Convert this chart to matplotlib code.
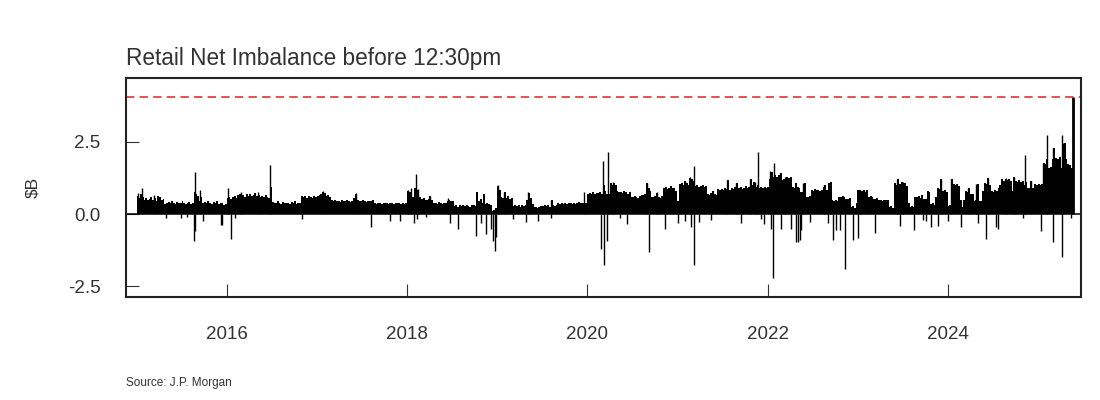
import matplotlib
matplotlib.use("Agg")
import matplotlib.pyplot as plt
import pandas as pd

plt.rcParams['font.family'] = ['Liberation Sans', 'DejaVu Sans']
plt.rcParams['lines.scale_dashes'] = False

title = "Retail Net Imbalance before 12:30pm"
ylabel = "$B"
source = "Source: J.P. Morgan"
threshold = 4.07
ytick_vals = [-2.5, 0.0, 2.5]
ytick_labels = ["-2.5", "0.0", "2.5"]
xtick_years = [2016, 2018, 2020, 2022, 2024]

# weekly net imbalance ($B), one list per year
pos_2015 = [0.62,0.55,0.68,0.58, 0.50,0.55,0.48,0.52,0.60,0.50,0.55,0.45,0.63,0.58,0.50,0.52,
            0.35,0.40,0.42,0.38,0.45,0.40,0.36,0.42,0.40,0.38,0.44,0.40,0.35,0.38,0.42,0.36,0.40,
            0.75,0.70,0.62, 0.45,0.60,0.40,0.42,0.38,0.45,0.40,0.36,0.42,0.38,0.44,0.35,0.40,0.38,0.30,0.36]
pos_2016 = [0.55,0.60,0.52,0.58,0.62,0.55,
            0.65,0.70,0.62,0.66,0.60,0.68,0.64,0.70,0.62,0.66,0.72,0.63,0.66,0.60,
            0.62,0.58,0.65,0.60, 0.55,0.95,
            0.42,0.40,0.38,0.44,0.40,0.36,0.42,0.40,0.38,
            0.40,0.36,0.42,0.38,0.45,0.35,0.40,0.38, 0.63,
            0.58,0.62,0.55,0.64,0.60,0.56,0.62,0.58]
pos_2017 = [0.62,0.66,0.70,0.78,0.72,0.64,0.66,0.60,
            0.48,0.45,0.50,0.44,0.46,0.42,0.48,0.45,0.44,0.50,0.46,0.42,0.47,
            0.55,0.69,
            0.48,0.45,0.44,0.50,0.46,0.42,0.47,0.45,0.44,0.48,
            0.38,0.36,0.40,0.38,0.35,0.40,0.37,0.39,0.36,0.40,0.38,0.35,0.39,0.37,0.40,0.36,0.38,0.34,0.40]
pos_2018 = [0.80,0.75,0.78,0.60,0.90,0.85,0.70,0.60,
            0.52,0.55,0.50,0.48,0.54,0.63,0.50,
            0.38,0.40,0.36,0.42,0.38,0.35,0.40,0.37,
            0.46,0.50,0.44,0.46,
            0.29,0.30,0.26,0.32,0.28,0.30,0.27,0.31,0.29,0.26,0.33,0.30,0.28,
            0.78,0.45,0.52,0.40,0.69,0.35,0.40,0.35,0.30,0.10,0.15,0.20]
pos_2019 = [0.98,0.85,0.60,0.55,0.75,0.57,0.62,0.52,0.55,
            0.29,0.32,0.27,0.30,0.26,0.31,0.28,0.30,
            0.50,0.72,0.57,0.35,
            0.23,0.25,0.20,0.24,
            0.29,0.27,0.32,0.28,0.30,0.26,0.48,0.30,0.28,0.31,
            0.37,0.35,0.40,0.36,0.38,0.34,0.39,0.37,0.35,0.40,0.36,0.38,0.42,0.37,0.40,0.38,0.40]
pos_2020 = [0.70,0.72,0.68,0.75,0.70,0.74,0.72,0.76,0.70, 1.00,0.80,
            0.69,0.69,1.06,1.00,1.06,1.00,0.80,
            0.75,0.78,0.72,0.80,0.75,0.70,0.76,
            0.60,0.58,0.62,0.60,0.56,0.62,
            0.67,0.65,0.70, 1.06,0.90,0.80,
            0.60,0.58,0.62,0.72,0.60,0.56,0.62,
            0.92,0.95,0.88,0.92,0.96,0.90,0.92,0.80]
pos_2021 = [0.45, 1.05,1.09,1.00,1.15,1.09,1.02, 1.26,1.22, 1.15,
            0.98,1.02,0.95,0.98,1.00,0.94,0.98,
            0.69,0.65,0.72,0.80,0.68,0.66,
            0.86,0.82,0.88,0.84,0.90,0.86,1.17,0.85,
            0.92,0.88,0.95,1.06,0.90,0.94,0.88,0.92,0.96,0.90,0.94,1.23,
            1.00,1.10,0.95, 1.00, 0.92,0.95,0.90,0.94,0.92]
pos_2022 = [0.94,1.20,1.46,1.30,1.34,1.30,1.34,1.43,
            1.17,1.20,1.12, 1.29,1.25,1.29,
            0.94,0.90,1.06,0.95,0.92, 0.77,0.75,1.08,
            0.60,0.58,0.62, 0.83,0.80,0.86,0.82,0.84,0.80,0.83,
            0.95,1.00,0.85,1.06,1.11,
            0.48,0.45,0.50,0.46, 0.60,0.58,0.62,0.60,
            0.54,0.52,0.55, 0.25,0.28,0.22, 0.40]
pos_2023 = [0.83,0.85,0.80,0.84,0.78,0.85, 0.60,0.62,0.58,
            0.54,0.52,0.56,0.50, 0.48,0.46,0.50,0.48, 0.50,
            0.25,0.28,0.22,
            1.06,1.02,1.20,1.05,1.10,1.00,1.08,0.98,
            0.40, 0.25,0.28,0.24,
            0.60,0.58,0.62,0.56,0.66, 0.54,0.52,
            0.80,0.78, 0.35,0.38,0.32, 0.60,0.92,0.88, 1.20, 0.80,0.82,0.78]
pos_2024 = [0.29,0.30, 1.20, 1.03,1.00,1.05,0.98, 0.50, 0.23,0.50, 0.80,0.78, 0.92,
            0.69,0.70, 0.46,0.48, 1.03, 0.46,0.45, 0.80, 1.09,1.05, 1.26, 1.00,
            0.80,0.78,0.82,0.80, 0.92, 1.00, 1.20,1.15,1.22,1.18,1.20,1.15, 0.80, 1.29,
            1.15,1.12,1.18,1.10,1.15, 1.00, 1.10, 0.92,0.90, 1.15, 0.90, 1.03,1.00]
pos_2025 = [1.03,1.00,1.05, 1.78,1.75, 1.90, 1.60,1.62, 1.90, 2.30, 1.95,1.90,1.98,
            1.60, 2.20, 2.47, 1.90, 1.72,1.70, 1.60, 1.50]

# single-day positive spikes
spike_dates = ["2015-01-05", "2015-01-22", "2015-03-13", "2015-08-24", "2015-09-14",
               "2016-01-04", "2016-02-27", "2016-05-05", "2016-06-24",
               "2017-01-25", "2017-06-09", "2018-01-04", "2018-01-17", "2018-02-06",
               "2018-02-14", "2018-04-02", "2018-06-15", "2019-01-03", "2019-01-30",
               "2019-05-05", "2019-08-07", "2019-12-20", "2020-03-05", "2020-03-26",
               "2020-04-15", "2020-08-30", "2020-10-10", "2021-02-01", "2021-02-21",
               "2021-03-10", "2021-07-19", "2021-08-27", "2021-10-20", "2021-11-09",
               "2021-11-23", "2022-01-09", "2022-01-28", "2022-02-18", "2022-03-12",
               "2022-05-24", "2022-08-16", "2022-09-12", "2023-01-09", "2023-02-02",
               "2023-06-09", "2023-07-03", "2023-12-05", "2024-01-15", "2024-03-23",
               "2024-04-26", "2024-06-12", "2024-08-26", "2024-09-24", "2024-11-11",
               "2024-12-04", "2025-01-21", "2025-02-07", "2025-03-03", "2025-04-07",
               "2025-04-13"]
spike_values = [0.72, 0.89, 0.66, 1.47, 0.83,
                0.92, 0.75, 0.78, 1.70,
                0.80, 0.72, 0.82, 0.92, 1.38,
                0.88, 0.63, 0.55, 1.00, 0.75,
                0.75, 0.48, 0.75, 1.84, 2.16,
                1.10, 1.06, 0.75, 1.15, 1.30,
                1.67, 1.17, 1.06, 1.23, 1.10,
                2.15, 1.50, 1.77, 1.43, 1.30,
                1.08, 1.00, 1.11, 0.85, 0.85,
                1.20, 1.10, 1.20, 1.20, 0.92,
                1.03, 1.26, 1.25, 1.29, 2.05,
                1.15, 1.78, 2.74, 2.30, 2.74,
                2.47]
last_date = "2025-05-22"
last_value = 4.07

neg_dates = ["2015-04-28", "2015-06-29", "2015-07-24", "2015-08-21", "2015-08-25", "2015-09-25",
             "2015-12-08", "2015-12-14", "2016-01-19", "2016-02-01", "2016-11-02", "2017-08-08",
             "2017-10-23", "2017-12-01", "2018-01-29", "2018-02-08", "2018-03-20", "2018-06-24",
             "2018-07-27", "2018-10-08", "2018-10-27", "2018-11-16", "2018-12-07", "2018-12-14",
             "2018-12-21", "2018-12-26", "2019-03-05", "2019-04-29", "2019-06-15", "2019-08-05",
             "2020-02-27", "2020-03-10", "2020-03-19", "2020-05-11", "2020-06-10", "2020-09-08",
             "2020-11-12", "2021-01-04", "2021-01-29", "2021-02-25", "2021-03-08", "2021-03-29",
             "2021-05-18", "2021-09-16", "2021-12-06", "2021-12-19", "2022-01-16", "2022-01-24",
             "2022-02-25", "2022-04-07", "2022-04-27", "2022-05-04", "2022-05-11", "2022-05-18",
             "2022-06-20", "2022-09-03", "2022-09-23", "2022-10-06", "2022-10-20", "2022-11-10",
             "2022-12-13", "2023-01-02", "2023-03-10", "2023-06-20", "2023-08-18", "2023-09-22",
             "2023-10-05", "2023-10-26", "2023-11-22", "2024-01-02", "2024-02-23", "2024-05-02",
             "2024-06-05", "2024-07-16", "2024-07-23", "2024-11-01", "2025-01-14", "2025-03-03",
             "2025-04-09", "2025-05-14"]
neg_values = [-0.12, -0.12, -0.10, -0.94, -0.57, -0.23,
              -0.37, -0.37, -0.86, -0.12, -0.17, -0.44,
              -0.25, -0.25, -0.32, -0.18, -0.10, -0.29,
              -0.52, -0.75, -0.29, -0.69, -0.52, -0.92,
              -1.29, -0.80, -0.17, -0.26, -0.23, -0.15,
              -1.20, -1.76, -0.93, -0.12, -0.34, -1.30,
              -0.52, -0.32, -0.23, -0.46, -1.75, -0.26,
              -0.20, -0.31, -0.17, -0.34, -0.50, -2.22,
              -0.50, -0.50, -0.95, -0.95, -0.90, -0.55,
              -0.26, -0.32, -0.90, -0.55, -0.55, -1.90,
              -0.90, -0.84, -0.67, -0.41, -0.55, -0.20,
              -0.23, -0.46, -0.40, -0.23, -0.46, -0.29,
              -0.86, -0.46, -0.52, -0.12, -0.57, -0.98,
              -1.49, -0.12]

years = [2015, 2016, 2017, 2018, 2019, 2020, 2021, 2022, 2023, 2024, 2025]
weekly = [pos_2015, pos_2016, pos_2017, pos_2018, pos_2019, pos_2020,
          pos_2021, pos_2022, pos_2023, pos_2024, pos_2025]

wk_dates, wk_vals = [], []
for y, arr in zip(years, weekly):
    start = pd.Timestamp(f"{y}-01-04")
    for i, v in enumerate(arr):
        wk_dates.append(start + pd.Timedelta(days=7 * i))
        wk_vals.append(v)

fig = plt.figure(figsize=(11, 4), dpi=100)
ax = fig.add_axes([0.11455, 0.25875, 0.86818, 0.5455])

ax.bar(wk_dates, wk_vals, width=8, color="black", linewidth=0)
ax.vlines(pd.to_datetime(spike_dates), 0, spike_values, color="black", linewidth=1.0)
ax.vlines(pd.to_datetime(neg_dates), 0, neg_values, color="black", linewidth=1.0)
ax.vlines([pd.Timestamp(last_date)], 0, [last_value], color="black", linewidth=2.0)

ax.axhline(0, color="black", linewidth=1.1)
ax.axhline(threshold, color="#e02020", linewidth=1.1, dashes=(6, 3.8))

ax.set_xlim(pd.Timestamp("2014-11-18"), pd.Timestamp("2025-06-24"))
ax.set_ylim(-2.85, 4.70)

ax.set_yticks(ytick_vals)
ax.set_yticklabels(ytick_labels)
ax.set_xticks([pd.Timestamp(f"{y}-01-01") for y in xtick_years])
ax.set_xticklabels([str(y) for y in xtick_years])

ax.tick_params(axis="y", direction="in", length=9.5, width=0.8, pad=18.5,
               labelsize=13.5, labelcolor="#333333", color="#333333")
ax.tick_params(axis="x", direction="in", length=9.5, width=0.8, pad=21.5,
               labelsize=13.5, labelcolor="#333333", color="#333333")
for s in ax.spines.values():
    s.set_linewidth(1.5)
    s.set_color("#222222")

ax.set_title(title, loc="left", fontsize=16.3, color="#333333", pad=9.5)
fig.text(0.030, 0.5315, ylabel, rotation=90, ha="center", va="center",
         fontsize=12.5, color="#333333")
fig.text(0.1145, 0.0425, source, ha="left", va="center", fontsize=8.5, color="#333333")

fig.savefig("out.png", dpi=100, facecolor="white")
